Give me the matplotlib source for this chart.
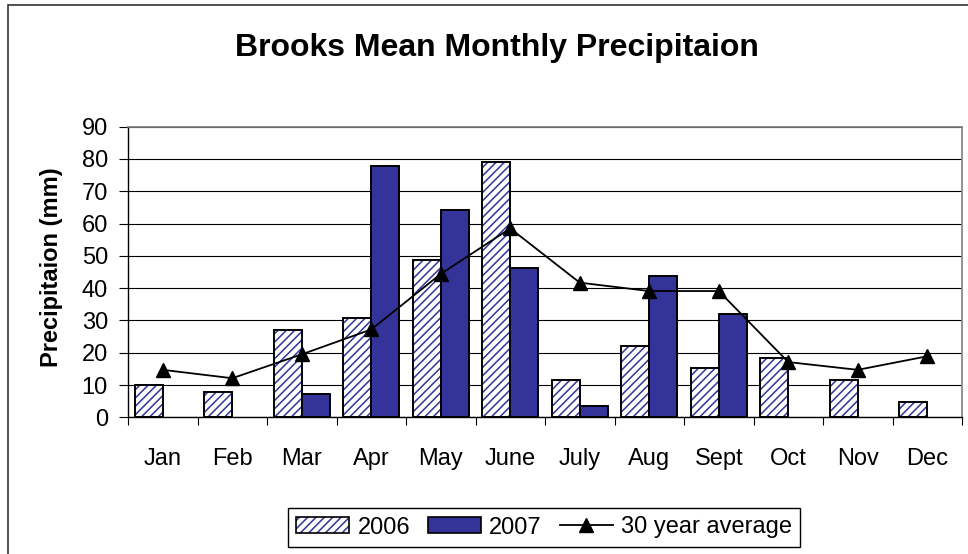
import numpy as np
import matplotlib.pyplot as plt
from matplotlib.patches import Patch, Rectangle
from matplotlib.lines import Line2D

plt.rcParams['font.family'] = ['Liberation Sans', 'DejaVu Sans']

months = ['Jan', 'Feb', 'Mar', 'Apr', 'May', 'June', 'July', 'Aug', 'Sept', 'Oct', 'Nov', 'Dec']
precip_2006 = [10.0, 7.8, 27.1, 30.7, 48.7, 79.0, 11.6, 22.0, 15.3, 18.3, 11.6, 4.7]
precip_2007 = [0, 0, 7.2, 77.8, 64.2, 46.3, 3.4, 43.8, 32.1, 0, 0, 0]
avg_30yr = [14.7, 12.1, 19.5, 27.2, 44.4, 58.5, 41.7, 39.1, 39.1, 17.1, 14.7, 18.9]

blue = '#333399'
W, H = 968, 554

fig = plt.figure(figsize=(W / 100, H / 100), dpi=100)
ax = fig.add_axes([128 / W, 1 - 417.3 / H, 834 / W, 290.6 / H])

x = np.arange(len(months))
bw = 0.4
plt.rcParams['hatch.linewidth'] = 1.1

# 2006: hatched white bars, hatch drawn in blue, then black outline on top
ax.bar(x - bw / 2, precip_2006, bw, facecolor='white', edgecolor=blue, hatch='////', linewidth=0, zorder=2)
ax.bar(x - bw / 2, precip_2006, bw, fill=False, edgecolor='black', linewidth=1.4, zorder=3)
# 2007: solid blue (skip empty months)
m07 = np.array(precip_2007) > 0
ax.bar(x[m07] + bw / 2, np.array(precip_2007)[m07], bw, facecolor=blue, edgecolor='black', linewidth=1.4, zorder=3)

ax.plot(x, avg_30yr, color='black', linewidth=1.3, marker='^', markersize=10, zorder=4)

ax.set_xlim(-0.5, 11.5)
ax.set_ylim(0, 90)
ax.set_yticks(np.arange(0, 91, 10))
ax.yaxis.grid(True, color='black', linewidth=0.8, zorder=0)
ax.set_axisbelow(True)

ax.set_xticks(np.arange(-0.5, 12, 1))
ax.set_xticklabels([])
ax.set_xticks(x, minor=True)
ax.set_xticklabels(months, minor=True)
ax.tick_params(axis='x', which='major', direction='out', length=6, width=0.8)
ax.tick_params(axis='x', which='minor', length=0, pad=22, labelsize=17)
ax.tick_params(axis='y', direction='out', length=6.5, width=0.8, pad=8, labelsize=17)

for s in ['top', 'right']:
    ax.spines[s].set_color('#808080')
    ax.spines[s].set_linewidth(1.2)
for s in ['left', 'bottom']:
    ax.spines[s].set_color('black')
    ax.spines[s].set_linewidth(1.0)

fig.text(497 / W, 1 - 56 / H, 'Brooks Mean Monthly Precipitaion', ha='center', va='baseline',
         fontsize=23, fontweight='bold')
fig.text(52 / W, 1 - 267.5 / H, 'Precipitaion (mm)', rotation=90, ha='center', va='center',
         fontsize=17, fontweight='bold')

# outer chart frame
fig.patches.append(Rectangle((8 / W, -0.05), 1.2, 1 - 5 / H + 0.05, transform=fig.transFigure,
                             fill=False, edgecolor='#333333', linewidth=1.2))

h06 = (Patch(facecolor='white', edgecolor=blue, hatch='////', linewidth=0),
       Patch(fill=False, edgecolor='black', linewidth=1.2))
h07 = Patch(facecolor=blue, edgecolor='black', linewidth=1.2)
hav = Line2D([], [], color='black', linewidth=1.3, marker='^', markersize=10)
leg = fig.legend([h06, h07, hav], ['2006', '2007', '30 year average'], ncol=3,
                 loc='center', bbox_to_anchor=(544 / W, 1 - 527.5 / H), fontsize=17,
                 frameon=True, fancybox=False, edgecolor='black', framealpha=1,
                 handlelength=2.25, handletextpad=0.35, columnspacing=0.75, borderpad=0.35,
                 handleheight=0.65)
leg.get_frame().set_linewidth(1.0)

fig.savefig('out.png', dpi=100)
